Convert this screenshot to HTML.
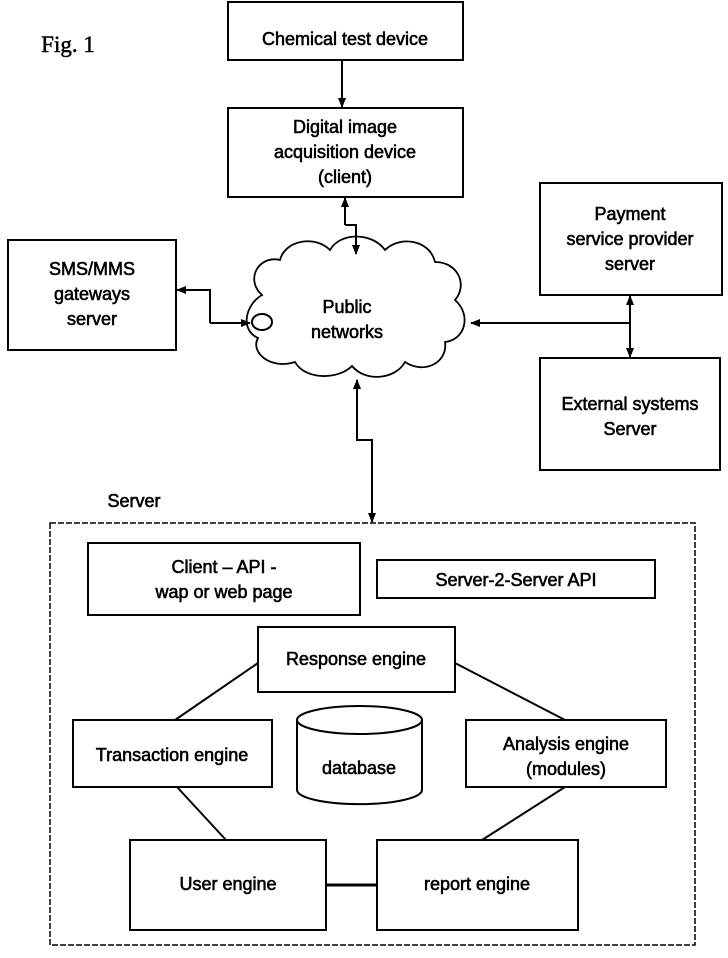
<!DOCTYPE html>
<html><head><meta charset="utf-8"><style>
html,body{margin:0;padding:0;background:#fff;}
svg{display:block;}
text{font-family:"Liberation Sans",sans-serif;font-size:18px;fill:#000;text-anchor:middle;stroke:#000;stroke-width:0.6;}
</style></head><body>
<svg width="728" height="958" viewBox="0 0 728 958" xmlns="http://www.w3.org/2000/svg">
<defs>
<marker id="a" markerWidth="10" markerHeight="10" refX="9" refY="5" orient="auto" markerUnits="userSpaceOnUse">
<path d="M0,1 L10,5 L0,9 z" fill="#000"/></marker>
</defs>
<g fill="none" stroke="#000" stroke-width="2">
<text x="68" y="52" style="font-family:'Liberation Serif',serif;font-size:23px;stroke-width:0.5">Fig. 1</text>
<rect x="228" y="2" width="235" height="58"/>
<rect x="228" y="108" width="235" height="89"/>
<rect x="8" y="240" width="168" height="110"/>
<rect x="540" y="183" width="182" height="112"/>
<rect x="540" y="358" width="180" height="112"/>
<line x1="342" y1="60" x2="342" y2="107" marker-end="url(#a)"/>
<polyline points="345,225 345,198" marker-end="url(#a)"/>
<polyline points="345,225 356,225 356,254" marker-end="url(#a)"/>
<polyline points="210,323 210,290 177,290" marker-end="url(#a)"/>
<polyline points="210,323 250,323" marker-end="url(#a)"/>
<ellipse cx="262" cy="322" rx="10" ry="8"/>
<line x1="630" y1="323" x2="471" y2="323" marker-end="url(#a)"/>
<line x1="630" y1="330" x2="630" y2="296" marker-end="url(#a)"/>
<line x1="630" y1="320" x2="630" y2="357" marker-end="url(#a)"/>
<polyline points="372,480 372,440 357,440 357,380" marker-end="url(#a)"/>
<line x1="372" y1="470" x2="372" y2="522" marker-end="url(#a)"/>
<path d="M262,295 C245,280 258,255 280,260 C285,240 315,235 330,250 C340,232 372,232 385,250 C400,235 430,240 435,262 C458,262 468,285 455,300 C472,315 465,340 445,342 C448,362 425,375 405,362 C395,380 365,382 352,366 C338,380 305,380 295,362 C270,370 250,352 258,338 C240,330 245,305 262,295 Z" stroke-width="1.8"/>
<rect x="50" y="523" width="645" height="422" stroke-dasharray="6,2" stroke-width="1.5"/>
<rect x="88" y="543" width="272" height="72"/>
<rect x="377" y="560" width="278" height="38"/>
<rect x="258" y="627" width="197" height="65"/>
<rect x="73" y="720" width="199" height="67"/>
<rect x="466" y="720" width="200" height="67"/>
<rect x="130" y="840" width="196" height="90"/>
<rect x="377" y="840" width="201" height="90"/>
<path d="M297,720 L297,790 A62,14 0 0 0 422,790 L422,720"/>
<ellipse cx="359.5" cy="720" rx="62.5" ry="14"/>
<line x1="258" y1="663" x2="175" y2="720"/>
<line x1="455" y1="663" x2="565" y2="720"/>
<line x1="177" y1="787" x2="226" y2="840"/>
<line x1="565" y1="787" x2="482" y2="840"/>
<line x1="326" y1="885" x2="377" y2="885" stroke-width="3"/>
</g>
<text x="345" y="45">Chemical test device</text>
<text x="345" y="133">Digital image</text>
<text x="345" y="158">acquisition device</text>
<text x="345" y="183">(client)</text>
<text x="92" y="275">SMS/MMS</text>
<text x="92" y="300">gateways</text>
<text x="92" y="325">server</text>
<text x="630" y="220">Payment</text>
<text x="630" y="245">service provider</text>
<text x="630" y="270">server</text>
<text x="630" y="410">External systems</text>
<text x="630" y="435">Server</text>
<text x="347" y="313">Public</text>
<text x="347" y="338">networks</text>
<text x="134" y="507">Server</text>
<text x="224" y="573">Client – API -</text>
<text x="224" y="598">wap or web page</text>
<text x="516" y="586">Server-2-Server  API</text>
<text x="356" y="665">Response engine</text>
<text x="172" y="761">Transaction engine</text>
<text x="359" y="774">database</text>
<text x="566" y="750">Analysis engine</text>
<text x="566" y="775">(modules)</text>
<text x="228" y="890">User engine</text>
<text x="477" y="890">report engine</text>
</svg>
</body></html>
